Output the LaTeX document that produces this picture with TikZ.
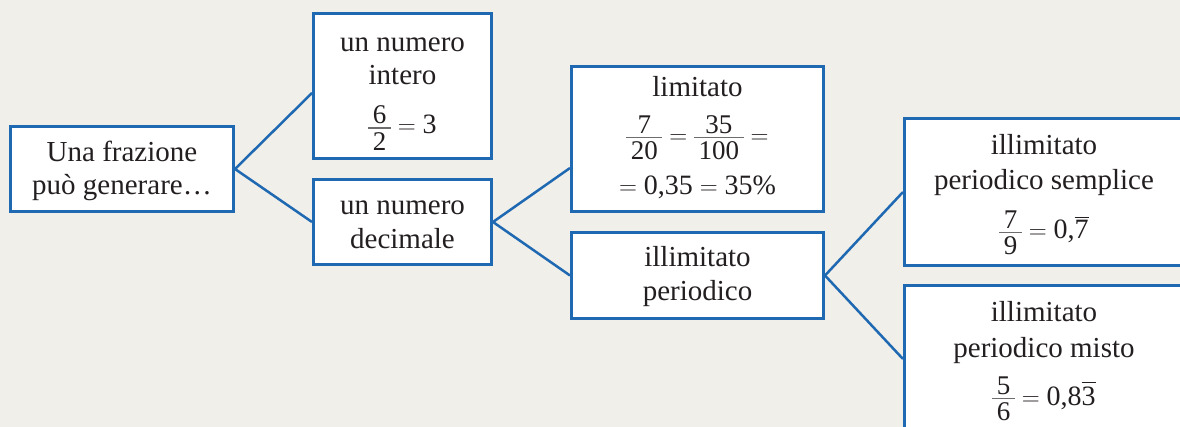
\documentclass[tikz,border=0pt]{standalone}
\usepackage{amsmath}
\usepackage{fontspec}
\setmainfont{Liberation Serif}
\definecolor{bblue}{HTML}{1F68B2}
\definecolor{bgc}{HTML}{F0EFE9}
\definecolor{txt}{HTML}{231F20}
\definecolor{fbar}{HTML}{6E6C6C}
\newcommand{\fr}[2]{\mathord{\vcenter{\offinterlineskip\fontsize{27}{27}\selectfont
  \halign{\hfil\kern4.5pt##\kern4.5pt\hfil\cr
  #1\cr
  \noalign{\kern3.6pt{\color{fbar}\hrule height 1.4pt}\kern3.6pt}
  #2\cr}}}}
\newcommand{\tx}[1]{\text{#1}}
\begin{document}
\begin{tikzpicture}[x=1pt,y=-1pt,
  box/.style={draw=bblue, line width=3pt, fill=white, inner sep=0pt},
  lbl/.style={inner sep=0pt, anchor=base, text=txt, font=\fontsize{29}{34}\selectfont},
  mth/.style={inner sep=0pt, anchor=base, text=txt, font=\fontsize{28}{34}\selectfont},
  conn/.style={draw=bblue, line width=2.5pt}]
\clip (0,0) rectangle (1180,427);
\fill[bgc] (0,0) rectangle (1180,427);
% boxes
\node[box, minimum width=223pt, minimum height=85pt] (A) at (122,169) {};
\node[box, minimum width=178pt, minimum height=145pt] (B) at (402.5,86) {};
\node[box, minimum width=178pt, minimum height=85pt] (C) at (402.5,222) {};
\node[box, minimum width=252pt, minimum height=145pt] (D) at (697.5,139) {};
\node[box, minimum width=252pt, minimum height=86pt] (E) at (697.5,275.5) {};
\node[box, minimum width=294pt, minimum height=147pt] (F) at (1051.5,192) {};
\node[box, minimum width=294pt, minimum height=147pt] (G) at (1051.5,359) {};
% texts
\node[lbl] (a1) at (122,162) {Una frazione};
\node[lbl] (a2) at (122,195) {può generare\ldots};
\node[lbl] (b1) at (402.5,52) {un numero};
\node[lbl] (b2) at (402.5,85) {intero};
\node[mth] (b3) at (402.5,134) {$\fr{6}{2}=\tx{3}$};
\node[lbl] (c1) at (402.5,215) {un numero};
\node[lbl] (c2) at (402.5,249) {decimale};
\node[lbl] (d1) at (697.5,97) {limitato};
\node[mth] (d2) at (697.5,144) {$\fr{7}{20}=\fr{35}{100}=$};
\node[mth] (d3) at (697.5,195) {$=\tx{0,35}=\tx{35\%}$};
\node[lbl] (e1) at (697.5,267) {illimitato};
\node[lbl] (e2) at (697.5,301) {periodico};
\node[lbl] (f1) at (1044,155) {illimitato};
\node[lbl] (f2) at (1044,190) {periodico semplice};
\node[mth] (f3) at (1044,239) {$\fr{7}{9}=\tx{0,}\overline{\tx{7}}$};
\node[lbl] (g1) at (1044,322) {illimitato};
\node[lbl] (g2) at (1044,357) {periodico misto};
\node[mth] (g3) at (1044,405) {$\fr{5}{6}=\tx{0,8}\overline{\tx{3}}$};
% connectors
\draw[conn] (A.east) -- ([yshift=-7pt]B.west);
\draw[conn] (A.east) -- (C.west);
\draw[conn] (C.east) -- ([yshift=-29pt]D.west);
\draw[conn] (C.east) -- (E.west);
\draw[conn] (E.east) -- (F.west);
\draw[conn] (E.east) -- (G.west);
\end{tikzpicture}
\end{document}
